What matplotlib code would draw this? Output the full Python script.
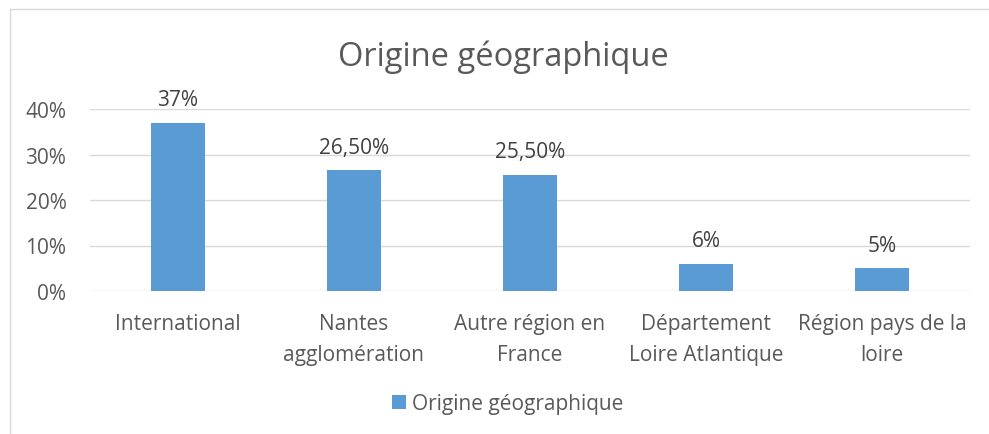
import matplotlib
matplotlib.use('Agg')
import matplotlib.pyplot as plt
from matplotlib.patches import Rectangle
from matplotlib.ticker import FuncFormatter

# chart data
categories = ['International', 'Nantes\nagglomération', 'Autre région en\nFrance',
              'Département\nLoire Atlantique', 'Région pays de la\nloire']
values = [0.37, 0.265, 0.255, 0.06, 0.05]
value_labels = ['37%', '26,50%', '25,50%', '6%', '5%']
series_name = 'Origine géographique'
title = 'Origine géographique'

BAR = '#5b9bd5'
GRID = '#d9d9d9'
TXT = '#595959'
FS = 15
plt.rcParams['font.family'] = ['Open Sans', 'DejaVu Sans']

fig = plt.figure(figsize=(9.89, 4.35), dpi=100)
W, H = 989, 435

# chart border (only top/left visible in the crop)
fig.patches.append(Rectangle((10 / W, -0.1), 1.2, 1 - 10 / H + 0.1, transform=fig.transFigure,
                             fill=False, edgecolor='#d9d9d9', linewidth=1.0))

ax = fig.add_axes([90 / W, 1 - 292 / H, 880 / W, 182 / H])
x = list(range(len(categories)))
bars = ax.bar(x, values, width=0.31, color=BAR, label=series_name, zorder=3)

ax.set_xlim(-0.5, len(categories) - 0.5)
ax.set_ylim(0, 0.40)
ax.set_yticks([0, 0.1, 0.2, 0.3, 0.4])
ax.yaxis.set_major_formatter(FuncFormatter(lambda v, p: f'{v * 100:.0f}%'))
ax.grid(axis='y', color=GRID, linewidth=1, zorder=0)
for s in ax.spines.values():
    s.set_visible(False)
ax.tick_params(axis='both', length=0, labelsize=FS, colors=TXT)
ax.tick_params(axis='y', pad=17)
ax.tick_params(axis='x', pad=16)
ax.set_xticks(x)
ax.set_xticklabels(categories, linespacing=1.6)

for b, lab in zip(bars, value_labels):
    ax.annotate(lab, (b.get_x() + b.get_width() / 2, b.get_height()),
                xytext=(0, 9), textcoords='offset points', ha='center', va='bottom',
                fontsize=FS, color='#404040')

fig.text(503 / W, 1 - 57 / H, title, ha='center', va='center', fontsize=23.5, color=TXT)

fig.legend(handles=[bars], labels=[series_name], loc='center', bbox_to_anchor=(508 / W, 1 - 405 / H),
           frameon=False, fontsize=FS, labelcolor=TXT, handlelength=0.65, handleheight=0.65,
           handletextpad=0.3)

fig.savefig('out.png', dpi=100)
